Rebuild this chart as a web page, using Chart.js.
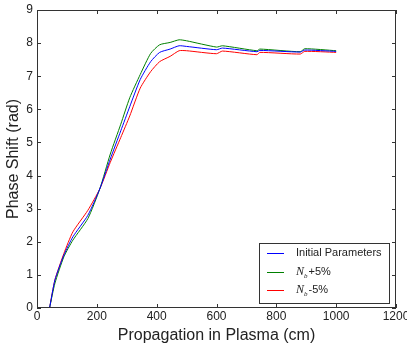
<!DOCTYPE html>
<html>
<head>
<meta charset="utf-8">
<script src="https://cdn.jsdelivr.net/npm/chart.js@4.4.0/dist/chart.umd.min.js"></script>
<style>
html, body { margin: 0; padding: 0; background: #fff; }
</style>
</head>
<body>
<canvas id="phaseChart" width="407" height="345"></canvas>
<script>
// data
var propagation = [42, 60, 90, 120, 170, 210, 245, 280, 310, 345, 380, 410, 445, 475, 500, 600, 620, 735, 745, 880, 895, 1000];
var initialPhase = [0, 0.85, 1.6, 2.15, 2.8, 3.6, 4.5, 5.35, 6.08, 6.9, 7.44, 7.72, 7.82, 7.92, 7.9, 7.8, 7.85, 7.74, 7.78, 7.73, 7.79, 7.75];
var plusPhase = [0, 0.75, 1.55, 2.05, 2.7, 3.6, 4.65, 5.55, 6.35, 7.05, 7.69, 7.95, 8.02, 8.1, 8.07, 7.88, 7.92, 7.77, 7.82, 7.74, 7.83, 7.77];
var minusPhase = [0, 0.85, 1.65, 2.3, 2.95, 3.6, 4.4, 5.15, 5.8, 6.64, 7.14, 7.44, 7.6, 7.77, 7.77, 7.68, 7.76, 7.65, 7.72, 7.67, 7.75, 7.72];
var seriesNames = ["Initial Parameters", "N_b+5%", "N_b-5%"];
var seriesColors = ['#0000ff', '#008000', '#ff0000'];

var FONT = "'Liberation Sans', Arial, sans-serif";

function toPoints(ys) {
    var pts = [];
    for (var i = 0; i < propagation.length; i++) {
        pts.push({ x: propagation[i], y: ys[i] });
    }
    return pts;
}

// matplotlib-style frame with inward ticks
var frameTicks = {
    id: 'frameTicks',
    afterDraw: function (chart) {
        var ctx = chart.ctx, a = chart.chartArea;
        var xs = chart.scales.x, ys = chart.scales.y;
        ctx.save();
        ctx.strokeStyle = '#333';
        ctx.lineWidth = 1;
        ctx.beginPath();
        xs.ticks.forEach(function (t) {
            var px = Math.round(xs.getPixelForValue(t.value)) + 0.5;
            ctx.moveTo(px, a.bottom); ctx.lineTo(px, a.bottom - 4);
            ctx.moveTo(px, a.top); ctx.lineTo(px, a.top + 4);
        });
        ys.ticks.forEach(function (t) {
            var py = Math.round(ys.getPixelForValue(t.value)) + 0.5;
            ctx.moveTo(a.left, py); ctx.lineTo(a.left + 4, py);
            ctx.moveTo(a.right, py); ctx.lineTo(a.right - 4, py);
        });
        ctx.stroke();
        ctx.strokeRect(Math.round(a.left) + 0.5, Math.round(a.top) + 0.5,
            Math.round(a.right - a.left) - 1, Math.round(a.bottom - a.top) - 1);
        ctx.restore();
    }
};

// legend box in lower right, N_b drawn as italic N with subscript b
var boxLegend = {
    id: 'boxLegend',
    afterDraw: function (chart) {
        var ctx = chart.ctx, a = chart.chartArea;
        var w = 130, h = 60;
        var x0 = Math.round(a.right) - 7 - w, y0 = Math.round(a.bottom) - 5 - h;
        ctx.save();
        ctx.fillStyle = '#fff';
        ctx.fillRect(x0, y0, w, h);
        ctx.strokeStyle = '#333';
        ctx.lineWidth = 1;
        ctx.strokeRect(x0 + 0.5, y0 + 0.5, w, h);
        chart.data.datasets.forEach(function (ds, i) {
            var cy = y0 + 10 + Math.round(i * 18.5);
            ctx.strokeStyle = seriesColors[i];
            ctx.beginPath();
            ctx.moveTo(x0 + 8, cy + 0.5); ctx.lineTo(x0 + 25, cy + 0.5);
            ctx.stroke();
            ctx.fillStyle = '#222';
            ctx.textBaseline = 'middle';
            var tx = x0 + 37;
            var label = ds.label;
            if (label.indexOf('N_b') === 0) {
                ctx.font = "italic 12px 'Liberation Serif', serif";
                ctx.fillText('N', tx, cy);
                tx += ctx.measureText('N').width;
                ctx.font = "italic 7px 'Liberation Serif', serif";
                ctx.fillText('b', tx, cy + 4);
                tx += ctx.measureText('b').width + 1;
                label = label.substring(3);
            }
            ctx.font = '11px ' + FONT;
            ctx.fillText(label, tx, cy);
        });
        ctx.restore();
    }
};

var ctxPh = document.getElementById("phaseChart").getContext('2d');

var phaseChart = new Chart(ctxPh, {
    type: 'line',
    data: {
        datasets: [
            { label: seriesNames[0], data: toPoints(initialPhase), borderColor: seriesColors[0] },
            { label: seriesNames[1], data: toPoints(plusPhase), borderColor: seriesColors[1] },
            { label: seriesNames[2], data: toPoints(minusPhase), borderColor: seriesColors[2] }
        ]
    },
    options: {
        responsive: false,
        animation: false,
        layout: { padding: { top: 10, right: 11, left: 0, bottom: 0 } },
        elements: {
            point: { radius: 0 },
            line: { borderWidth: 1, tension: 0.2 }
        },
        plugins: {
            legend: { display: false },
            tooltip: { enabled: false }
        },
        scales: {
            x: {
                type: 'linear',
                min: 0,
                max: 1200,
                ticks: {
                    stepSize: 200, color: '#222', font: { family: FONT, size: 12 }, padding: 1, maxRotation: 0,
                    callback: function (v) { return String(v); }
                },
                grid: { display: false, drawTicks: false },
                border: { display: false },
                title: { display: true, text: 'Propagation in Plasma (cm)', color: '#222', font: { family: FONT, size: 16 }, padding: { top: 0, bottom: 0 } },
                afterFit: function (scale) { scale.height = 37; scale.paddingLeft = 0; scale.paddingRight = 0; }
            },
            y: {
                min: 0,
                max: 9,
                ticks: { stepSize: 1, color: '#222', font: { family: FONT, size: 12 }, padding: 4 },
                grid: { display: false, drawTicks: false },
                border: { display: false },
                title: { display: true, text: 'Phase Shift (rad)', color: '#222', font: { family: FONT, size: 16 }, padding: { top: 4, bottom: 0 } },
                afterFit: function (scale) { scale.width = 37; scale.paddingTop = 0; scale.paddingBottom = 0; }
            }
        }
    },
    plugins: [frameTicks, boxLegend]
});
</script>
</body>
</html>
